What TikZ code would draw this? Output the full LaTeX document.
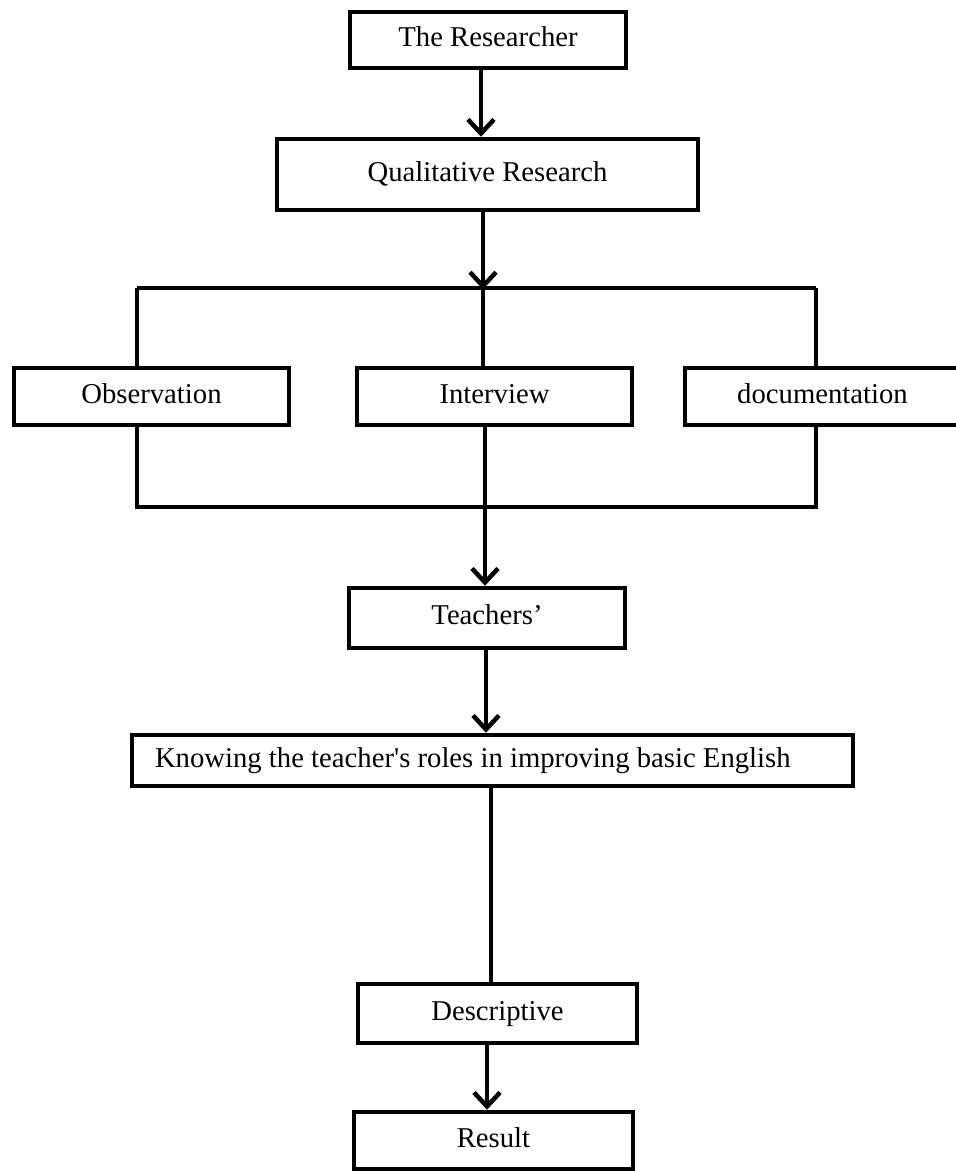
\documentclass[tikz,border=0pt]{standalone}
\usepackage{fontspec}
\setmainfont{Liberation Serif}[Ligatures=TeXOff]
\usetikzlibrary{arrows.meta}
\begin{document}
\begin{tikzpicture}[x=1pt,y=-1pt,
  box/.style={draw=black, line width=4.5pt, rectangle, inner sep=0pt,
    text height=19pt, text depth=6pt,
    font=\fontsize{28.7}{34}\selectfont},
  conn/.style={draw=black, line width=3.5pt},
  arr/.style={draw=black, line width=4.5pt, -{Straight Barb[length=14pt,width=26pt]}}]
\useasboundingbox (0,0) rectangle (956,1171);
\clip (0,0) rectangle (956,1171);
\fill[white] (0,0) rectangle (956,1171);
% nodes
\node[box, minimum width=276pt, minimum height=56pt] (r) at (488,40) {The Researcher};
\node[box, minimum width=421pt, minimum height=71pt] (q) at (487.5,174.5) {Qualitative Research};
\node[box, minimum width=275pt, minimum height=57pt] (obs) at (151.5,396.5) {Observation};
\node[box, minimum width=275pt, minimum height=57pt] (int) at (494.5,396.5) {Interview};
\node[box, minimum width=275pt, minimum height=57pt] (doc) at (822.5,396.5) {documentation};
\node[box, minimum width=276pt, minimum height=60pt] (t) at (487,618) {Teachers’};
\node[box, minimum height=51pt, text width=675pt, inner xsep=23pt, align=flush left] (k) at (492.5,760.5) {Knowing the teacher's roles in improving basic English};
\node[box, minimum width=279pt, minimum height=59pt] (d) at (497.5,1013.5) {Descriptive};
\node[box, minimum width=279pt, minimum height=57pt] (res) at (493.5,1140.5) {Result};
% helper coordinates
\coordinate (xa) at (481,0);
\coordinate (xb) at (483,0);
\coordinate (tl) at (137,288);
\coordinate (tm) at (483,288);
\coordinate (tr) at (816,288);
\coordinate (bl) at (137,507);
\coordinate (br) at (816,507);
\coordinate (xc) at (485,0);
\coordinate (xd) at (486,0);
\coordinate (xe) at (491,0);
\coordinate (xf) at (487,0);
% connectors
\draw[arr] (r.south -| xa) -- (q.north -| xa);
\draw[arr] (q.south -| xb) -- ([yshift=-1.5pt]tm);
\draw[conn] (tl) -- (tr);
\draw[conn] (tl) -- (obs.north -| tl);
\draw[conn] (tm) -- (int.north -| tm);
\draw[conn] (tr) -- (doc.north -| tr);
\draw[conn] (obs.south -| bl) -- (bl) -- (br) -- (doc.south -| br);
\draw[arr] (int.south -| xc) -- (t.north -| xc);
\draw[arr] (t.south -| xd) -- (k.north -| xd);
\draw[conn] (k.south -| xe) -- (d.north -| xe);
\draw[arr] (d.south -| xf) -- (res.north -| xf);
\end{tikzpicture}
\end{document}
